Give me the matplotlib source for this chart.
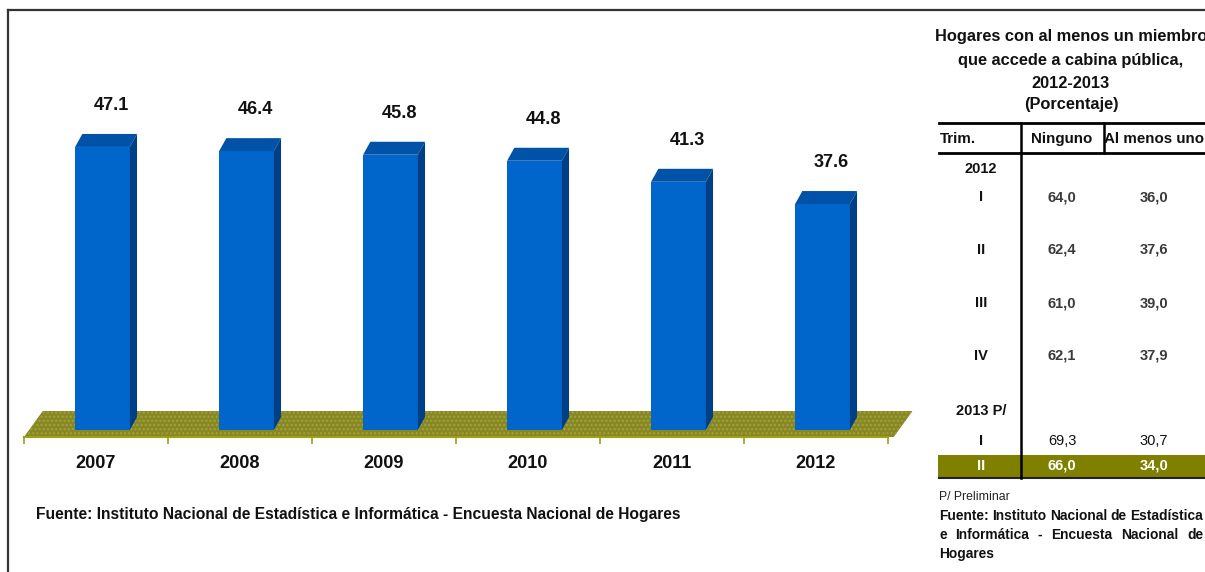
import matplotlib
matplotlib.use("Agg")
import matplotlib.pyplot as plt
from matplotlib import font_manager as fm
from matplotlib.lines import Line2D
from matplotlib.patches import Polygon, Rectangle

# data
years = ["2007", "2008", "2009", "2010", "2011", "2012"]
values = [47.1, 46.4, 45.8, 44.8, 41.3, 37.6]

table_title = ["Hogares con al menos un miembro", "que accede a cabina pública,",
               "2012-2013", "(Porcentaje)"]
table_header = ["Trim.", "Ninguno", "Al menos uno"]
trim_labels = ["2012", "I", "II", "III", "IV", "2013 P/", "I", "II"]
ninguno = ["", "64,0", "62,4", "61,0", "62,1", "", "69,3", "66,0"]
al_menos_uno = ["", "36,0", "37,6", "39,0", "37,9", "", "30,7", "34,0"]

source = "Fuente: Instituto Nacional de Estadística e Informática - Encuesta Nacional de Hogares"
note = "P/ Preliminar"
source_right = ["Fuente: Instituto Nacional de Estadística",
                "e Informática -  Encuesta Nacional de",
                "Hogares"]

# fonts: narrow if we have it
names = {f.name for f in fm.fontManager.ttflist}
if "Liberation Sans Narrow" in names:
    FAM = ["Liberation Sans Narrow", "DejaVu Sans"]
    k = 1.0
else:
    FAM = ["Liberation Sans", "DejaVu Sans"]
    k = 0.84
plt.rcParams["font.family"] = FAM

W, H = 1205, 572
fig = plt.figure(figsize=(W / 100, H / 100), dpi=100)

# bar chart axes, pixel box: x 24..888, y 60..437
ax = fig.add_axes([24 / W, (H - 437) / H, 864 / W, 377 / H])
ymin = -7 / 6.01
ymax = ymin + 377 / 6.01
ax.set_xlim(-0.5, len(years) - 0.5)
ax.set_ylim(ymin, ymax)

front = "#0066cc"
top_c = "#0052a6"
side_c = "#003f86"
bw = 0.38
off = 0.045
dx, dy = 0.05, 2.16

# floor
floor = Polygon([(-0.5, ymin), (5.54, ymin), (5.67, 3.16), (-0.37, 3.16)],
                closed=True, facecolor="#878724", edgecolor="#a3a33c",
                hatch="....", linewidth=0, zorder=1, clip_on=False)
ax.add_patch(floor)

xs = list(range(len(years)))
ax.bar([x + off for x in xs], values, width=bw, color=front, zorder=3)
for x, v in zip(xs, values):
    x0 = x + off - bw / 2
    x1 = x + off + bw / 2
    ax.fill([x0, x1, x1 + dx, x0 + dx], [v, v, v + dy, v + dy],
            color=top_c, zorder=3, linewidth=0)
    ax.fill([x1, x1 + dx, x1 + dx, x1], [0, dy, v + dy, v],
            color=side_c, zorder=3, linewidth=0)
    ax.text(x + off + dx + 0.01, v + 6.9, f"{v:.1f}", ha="center", va="center",
            fontsize=15.5 * k, fontweight="bold", color="#111111")

for s in ["top", "right", "left"]:
    ax.spines[s].set_visible(False)
ax.spines["bottom"].set_color("#a0a014")
ax.spines["bottom"].set_linewidth(1.5)
ax.spines["bottom"].set_zorder(2)
ax.set_yticks([])
ax.set_xticks([x - 0.5 for x in range(len(years) + 1)])
ax.set_xticklabels([])
ax.tick_params(axis="x", which="major", length=5, width=1.2, color="#a0a014")
ax.set_xticks(xs, minor=True)
ax.set_xticklabels(years, minor=True, fontsize=15.5 * k, fontweight="bold",
                   color="#111111")
ax.tick_params(axis="x", which="minor", length=0, pad=13)

# overlay in pixel coords for table, notes and frame
ov = fig.add_axes([0, 0, 1, 1], zorder=5)
ov.set_xlim(0, W)
ov.set_ylim(H, 0)
ov.axis("off")
ov.patch.set_alpha(0)

# frame
ov.add_line(Line2D([8, W], [10, 10], color="#333333", lw=1.6))
ov.add_line(Line2D([8, 8], [10, H], color="#333333", lw=1.6))

ov.text(36, 514, source, ha="left", va="center", fontsize=12 * k * 1.12,
        fontweight="bold", color="#111111")

# table
tl, tr = 939, W
for y, t in zip([37, 60, 83, 105], table_title):
    ov.text(1071, y, t, ha="center", va="center", fontsize=14 * k,
            fontweight="bold", color="#111111")

ov.add_line(Line2D([tl, tr], [123, 123], color="black", lw=2))
ov.add_line(Line2D([tl, tr], [153, 153], color="black", lw=2))
ov.add_line(Line2D([1104, 1104], [123, 153], color="black", lw=1.8))

ov.text(940, 139, table_header[0], ha="left", va="center",
        fontsize=13 * k, fontweight="bold", color="#111111")
ov.text(1062, 139, table_header[1], ha="center", va="center",
        fontsize=13 * k, fontweight="bold", color="#111111")
ov.text(1154, 139, table_header[2], ha="center", va="center",
        fontsize=13 * k, fontweight="bold", color="#111111")

row_y = [169, 197, 250, 303, 356, 411, 441, 466]
ov.add_patch(Rectangle((tl - 1, 455), tr - tl + 1, 23, facecolor="#808000",
                       edgecolor="none", zorder=1))
ov.add_line(Line2D([tl, tr], [478, 478], color="#222222", lw=1.5))
ov.add_line(Line2D([1021, 1021], [123, 478], color="black", lw=1.8, zorder=3))

for i, (lab, a, b) in enumerate(zip(trim_labels, ninguno, al_menos_uno)):
    y = row_y[i]
    if i == len(trim_labels) - 1:
        c_lab, c_val, wt = "white", "white", "bold"
    elif i == len(trim_labels) - 2:
        c_lab, c_val, wt = "#111111", "#111111", "normal"
    else:
        c_lab, c_val, wt = "#111111", "#3a3a3a", "bold"
    ov.text(981, y, lab, ha="center", va="center", fontsize=12.5 * k,
            fontweight="bold", color=c_lab, zorder=4)
    ov.text(1062, y, a, ha="center", va="center", fontsize=12.5 * k,
            fontweight=wt, color=c_val, zorder=4)
    ov.text(1154, y, b, ha="center", va="center", fontsize=12.5 * k,
            fontweight=wt, color=c_val, zorder=4)

ov.text(tl, 497, note, ha="left", va="center", fontsize=10.5 * k,
        color="#222222")

# justified source lines under the table
r = fig.canvas.get_renderer()
fs_src = 11.8 * k
for j, (y, t) in enumerate(zip([516, 535, 554], source_right)):
    if j == len(source_right) - 1:
        ov.text(tl, y, t, ha="left", va="center", fontsize=fs_src,
                fontweight="bold", color="#111111")
        continue
    words = t.split()
    arts = [ov.text(0, y, w_, ha="left", va="center", fontsize=fs_src,
                    fontweight="bold", color="#111111") for w_ in words]
    widths = [a_.get_window_extent(r).width for a_ in arts]
    gap = (1203 - tl - sum(widths)) / (len(words) - 1)
    xpos = tl
    for a_, w_ in zip(arts, widths):
        a_.set_x(xpos)
        xpos += w_ + gap

fig.savefig("out.png", dpi=100)
